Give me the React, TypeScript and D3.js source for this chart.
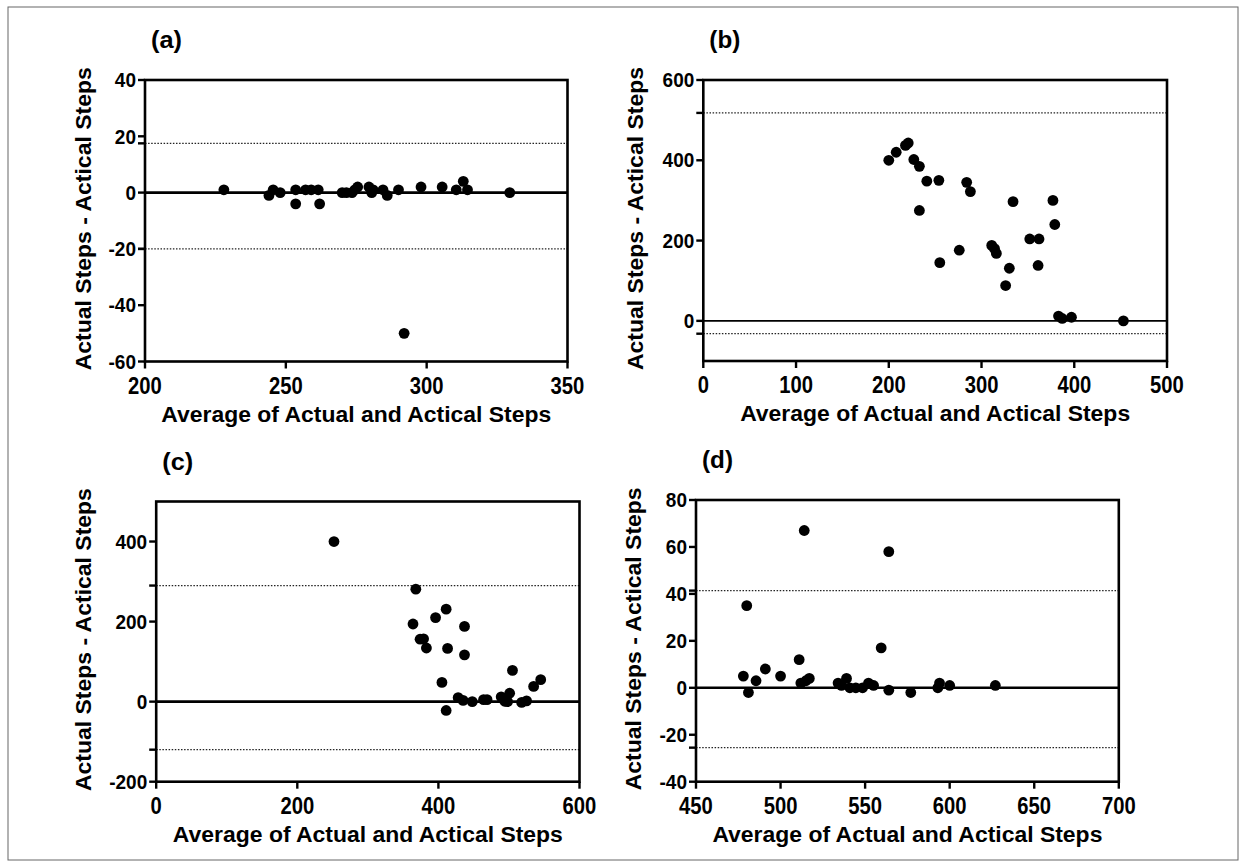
import React from "react";
import * as d3 from "d3";

// Bland-Altman panels: [average, difference]
const pointsA: [number, number][] = [
  [228, 1], [244, -1], [245.5, 1], [248, 0], [253.5, 1], [253.5, -4], [257, 1],
  [259, 1], [261.5, 1], [262, -4], [270, 0], [271.5, 0], [273.5, 0], [274.5, 1],
  [275.5, 2], [279.5, 2], [280.5, 0], [281, 1], [284.5, 1], [286, -1], [290, 1],
  [298, 2], [305.5, 2], [310.5, 1], [313, 4], [314.5, 1], [329.5, 0], [292, -50],
];
const pointsB: [number, number][] = [
  [200, 400], [208, 420], [218, 437], [221, 443], [227, 402], [233, 385],
  [241, 348], [254, 350], [233, 275], [284, 345], [288, 322], [334, 297],
  [377, 300], [379, 240], [352, 204], [362, 204], [361, 138], [276, 176],
  [255, 145], [311, 188], [314, 180], [316, 168], [330, 131], [326, 88],
  [383, 12], [387, 6], [397, 9], [453, 0],
];
const pointsC: [number, number][] = [
  [252, 400], [368, 281], [364, 194], [374, 156], [379, 157], [383, 134],
  [396, 210], [411, 231], [437, 188], [413, 133], [437, 117], [405, 48],
  [411, -22], [428, 10], [435, 3], [448, 0], [464, 5], [469, 5], [489, 12],
  [501, 21], [494, 1], [498, 0], [505, 78], [518, -2], [525, 2], [535, 38],
  [545, 55],
];
const pointsD: [number, number][] = [
  [514, 67], [564, 58], [480, 35], [559.5, 17], [511, 12], [491, 8], [478, 5],
  [500, 5], [485.5, 3], [481, -2], [512, 2], [515, 3], [517, 4], [534, 2],
  [536, 1], [539, 4], [541, 0], [544.5, 0], [548.5, 0], [552, 2], [555, 1],
  [564, -1], [577, -2], [593, 0], [594, 2], [600, 1], [627, 1],
];

const limitsA = [17.5, -20];
const limitsB = [518, -32];
const limitsC = [290, -120];
const limitsD = [41.4, -25.5];

const xTicksA = [200, 250, 300, 350];
const yTicksA = [-60, -40, -20, 0, 20, 40];
const xTicksB = [0, 100, 200, 300, 400, 500];
const yTicksB = [0, 200, 400, 600];
const xTicksC = [0, 200, 400, 600];
const yTicksC = [-200, 0, 200, 400];
const xTicksD = [450, 500, 550, 600, 650, 700];
const yTicksD = [-40, -20, 0, 20, 40, 60, 80];

const xTitle = "Average of Actual and Actical Steps";
const yTitle = "Actual Steps - Actical Steps";
const font = "'Liberation Sans', Arial, Helvetica, sans-serif";

// squeeze number labels a little, the original uses a narrow bold face
const numWidth = (t: number, fs: number, k: number) => {
  const s = String(t);
  const digits = s.replace("-", "").length;
  return (digits * 0.556 + (s.startsWith("-") ? 0.333 : 0)) * fs * k;
};

type PanelProps = {
  label: string;
  points: [number, number][];
  limits: number[];
  xDomain: [number, number];
  yDomain: [number, number];
  xTicks: number[];
  yTicks: number[];
  box: { left: number; right: number; top: number; bottom: number };
  zeroWidth: number;
  yTitleX: number;
};

function Panel(p: PanelProps) {
  const { left, right, top, bottom } = p.box;
  const x = d3.scaleLinear().domain(p.xDomain).range([left, right]);
  const y = d3.scaleLinear().domain(p.yDomain).range([bottom, top]);
  const cx = (left + right) / 2;
  const cy = (top + bottom) / 2 - 2;
  return (
    <g fontFamily={font} fontWeight="bold" fill="#000">
      <text x={left + 6} y={top - 32} fontSize={24} textLength={31} lengthAdjust="spacingAndGlyphs">{p.label}</text>

      {p.limits.map((v, i) => (
        <line key={"l" + i} x1={left} x2={right} y1={y(v)} y2={y(v)}
          stroke="#222" strokeWidth={1.2} strokeDasharray="1.5,1.6" />
      ))}
      <line x1={left} x2={right} y1={y(0)} y2={y(0)} stroke="#000" strokeWidth={p.zeroWidth} />

      <rect x={left} y={top} width={right - left} height={bottom - top}
        fill="none" stroke="#000" strokeWidth={2.6} />

      {p.yTicks.map((t) => (
        <g key={"y" + t}>
          <line x1={left - 7} x2={left} y1={y(t)} y2={y(t)} stroke="#000" strokeWidth={2.4} />
          <text x={left - 9} y={y(t)} dy="0.36em" textAnchor="end" fontSize={20}
            textLength={numWidth(t, 20, 0.95)} lengthAdjust="spacingAndGlyphs">{t}</text>
        </g>
      ))}
      {p.limits.map((v, i) => (
        <line key={"lt" + i} x1={left - 7} x2={left} y1={y(v)} y2={y(v)} stroke="#000" strokeWidth={2.4} />
      ))}
      {p.xTicks.map((t) => (
        <g key={"x" + t}>
          <line x1={x(t)} x2={x(t)} y1={bottom} y2={bottom + 7} stroke="#000" strokeWidth={2.4} />
          <text x={x(t)} y={bottom + 32} textAnchor="middle" fontSize={23}
            textLength={numWidth(t, 23, 0.88)} lengthAdjust="spacingAndGlyphs">{t}</text>
        </g>
      ))}

      {p.points.map(([a, b], i) => (
        <circle key={"p" + i} cx={x(a)} cy={y(b)} r={5.4} fill="#000" />
      ))}

      <text x={cx} y={bottom + 60} textAnchor="middle" fontSize={22}
        textLength={390} lengthAdjust="spacingAndGlyphs">{xTitle}</text>
      <text transform={`translate(${p.yTitleX},${cy}) rotate(-90)`} textAnchor="middle"
        fontSize={22} textLength={303} lengthAdjust="spacingAndGlyphs">{yTitle}</text>
    </g>
  );
}

export default function App() {
  return (
    <svg width={1247} height={865} style={{ position: "absolute", left: 0, top: 0 }}>
      <rect x={0} y={0} width={1247} height={865} fill="#fff" />
      <rect x={8} y={7} width={1230} height={853} fill="none" stroke="#666" strokeWidth={1} />
      <Panel label="(a)" points={pointsA} limits={limitsA} xDomain={[200, 350]} yDomain={[-60, 40]}
        xTicks={xTicksA} yTicks={yTicksA} box={{ left: 145, right: 567.5, top: 80, bottom: 361.5 }}
        zeroWidth={2.6} yTitleX={91} />
      <Panel label="(b)" points={pointsB} limits={limitsB} xDomain={[0, 500]} yDomain={[-100, 600]}
        xTicks={xTicksB} yTicks={yTicksB} box={{ left: 703.3, right: 1167, top: 80, bottom: 361 }}
        zeroWidth={1.6} yTitleX={643} />
      <Panel label="(c)" points={pointsC} limits={limitsC} xDomain={[0, 600]} yDomain={[-200, 500]}
        xTicks={xTicksC} yTicks={yTicksC} box={{ left: 156.2, right: 579.5, top: 501.5, bottom: 781.7 }}
        zeroWidth={2.6} yTitleX={91} />
      <Panel label="(d)" points={pointsD} limits={limitsD} xDomain={[450, 700]} yDomain={[-40, 80]}
        xTicks={xTicksD} yTicks={yTicksD} box={{ left: 696, right: 1118.8, top: 500, bottom: 781.7 }}
        zeroWidth={2.6} yTitleX={641} />
    </svg>
  );
}
